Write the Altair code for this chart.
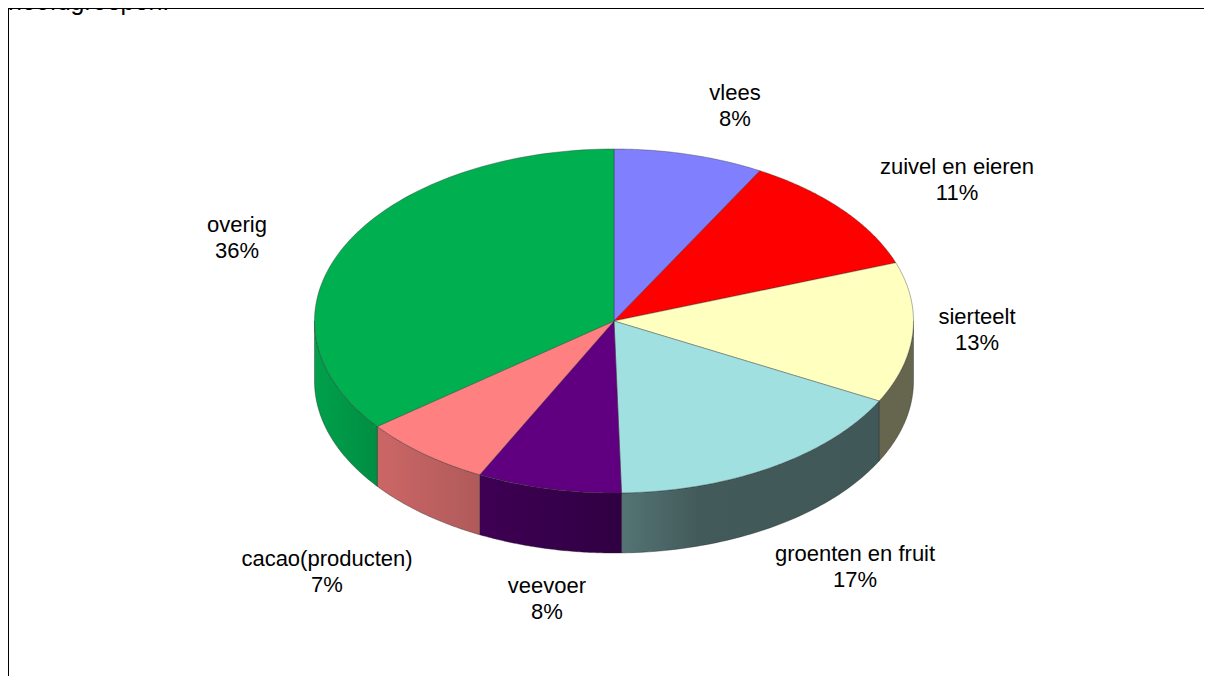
import numpy as np
import pandas as pd
import altair as alt

# ---- chart values -------------------------------------------------------
CATEGORIES = ["vlees", "zuivel en eieren", "sierteelt", "groenten en fruit",
              "veevoer", "cacao(producten)", "overig"]
SHARES = [8.1, 11.4, 13.2, 16.9, 7.8, 7.1, 35.5]
PERCENT_LABELS = ["8%", "11%", "13%", "17%", "8%", "7%", "36%"]
CLIPPED_HEADING = "hoofdgroepen."

# ---- styles -------------------------------------------------------------
TOP_COLORS = ["#8080FF", "#FF0000", "#FFFFC0", "#A0E0E0", "#600080", "#FF8080", "#00B050"]
SIDE_STOPS = {
    "sierteelt": [(0, "#66664F"), (1, "#66664F")],
    "groenten en fruit": [(0, "#547474"), (0.3, "#435A5A"), (1, "#415858")],
    "veevoer": [(0, "#3E0054"), (1, "#300042")],
    "cacao(producten)": [(0, "#CC6666"), (1, "#B05A5A")],
    "overig": [(0, "#00A04C"), (1, "#008E42")],
}

# ---- layout (page pixels minus the 8px margin) --------------------------
W, H = 1196, 668
CX, CY, RX, RY, DEPTH = 606.0, 313.0, 299.5, 172.0, 60.0
LABEL_CENTRES = {
    "vlees": (727, 84.5), "zuivel en eieren": (949, 158.5), "sierteelt": (969, 308.5),
    "groenten en fruit": (847, 545.5), "veevoer": (539, 577.5),
    "cacao(producten)": (319, 550.5), "overig": (229, 216.5),
}
LINE_GAP = 26
FONT = "Liberation Sans"
FSIZE = 22

x_scale = alt.Scale(domain=[-CX / RX, (W - CX) / RX], range=[0, W], nice=False, zero=False)
y_scale = alt.Scale(domain=[-(H - CY) / RY, CY / RY], range=[H, 0], nice=False, zero=False)
x_enc = alt.X("x:Q", scale=x_scale, axis=None)
y_enc = alt.Y("y:Q", scale=y_scale, axis=None)
depth_units = DEPTH / RY


def polygon_chart(xs, ys, fill, edge):
    df = pd.DataFrame({"x": xs, "y": ys, "i": np.arange(len(xs))})
    return alt.Chart(df).mark_line(fill=fill, stroke=edge, strokeWidth=0.7, strokeOpacity=0.55).encode(
        x=x_enc, y=y_enc, order=alt.Order("i:Q"))


edges = np.cumsum([0.0] + SHARES) / sum(SHARES) * 2 * np.pi
layers = []

# side walls: only the part of the rim that faces the viewer
for k, cat in enumerate(CATEGORIES):
    a0 = max(edges[k], np.pi / 2)
    a1 = min(edges[k + 1], 3 * np.pi / 2)
    if a1 <= a0 or cat not in SIDE_STOPS:
        continue
    t = np.linspace(a0, a1, 60)
    xs = np.sin(t)
    ys = np.cos(t)
    px = np.concatenate([xs, xs[::-1], xs[:1]])
    py = np.concatenate([ys, ys[::-1] - depth_units, ys[:1]])
    grad = alt.LinearGradient(gradient="linear", x1=0, x2=1, y1=0, y2=0,
                              stops=[alt.GradientStop(offset=o, color=c) for o, c in SIDE_STOPS[cat]])
    layers.append(polygon_chart(px, py, grad, "#202020"))

# top face
for k, cat in enumerate(CATEGORIES):
    t = np.linspace(edges[k], edges[k + 1], 90)
    px = np.concatenate([[0.0], np.sin(t), [0.0]])
    py = np.concatenate([[0.0], np.cos(t), [0.0]])
    layers.append(polygon_chart(px, py, TOP_COLORS[k], "#303030"))

# slice labels
rows = []
for cat, pct in zip(CATEGORIES, PERCENT_LABELS):
    lx, ly = LABEL_CENTRES[cat]
    rows.append({"px": lx, "py": ly, "text": cat})
    rows.append({"px": lx, "py": ly + LINE_GAP, "text": pct})
labels = alt.Chart(pd.DataFrame(rows)).mark_text(
    font=FONT, fontSize=FSIZE, color="#000000", align="center", baseline="middle"
).encode(
    x=alt.X("px:Q", scale=None, axis=None),
    y=alt.Y("py:Q", scale=None, axis=None),
    text="text:N",
)
layers.append(labels)

# frame and clipped heading
one = pd.DataFrame({"a": [0]})
frame_top = alt.Chart(one).mark_rule(color="#000000", strokeWidth=1).encode(
    y=alt.value(0.5), x=alt.value(0), x2=alt.value(W))
frame_left = alt.Chart(one).mark_rule(color="#000000", strokeWidth=1).encode(
    x=alt.value(0.5), y=alt.value(0), y2=alt.value(H))
heading = alt.Chart(pd.DataFrame({"t": [CLIPPED_HEADING]})).mark_text(
    font=FONT, fontSize=25, color="#000000", align="left", baseline="alphabetic"
).encode(x=alt.value(0), y=alt.value(1.5), text="t:N")
layers += [frame_top, frame_left, heading]

chart = alt.layer(*layers).properties(
    width=W, height=H, padding=0,
    autosize=alt.AutoSizeParams(type="none"),
    background="#FFFFFF",
).configure_view(stroke=None)

chart.save("out.html", embed_options={"renderer": "svg", "actions": False})
